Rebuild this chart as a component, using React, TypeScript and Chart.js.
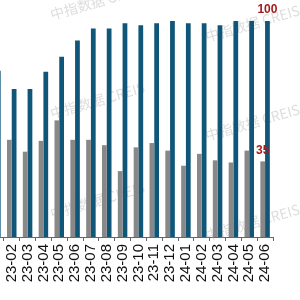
import React, { useEffect, useRef } from 'react';
import { Chart, registerables } from 'chart.js';

Chart.register(...registerables);

const categories = [
  '23-01', '23-02', '23-03', '23-04', '23-05', '23-06', '23-07', '23-08', '23-09',
  '23-10', '23-11', '23-12', '24-01', '24-02', '24-03', '24-04', '24-05', '24-06',
];
const grayValues = [40, 45, 39.5, 44.5, 54, 45, 45, 42.5, 30.5, 41.5, 43.5, 40, 33, 38.5, 35.5, 34.5, 40, 35];
const blueValues = [77, 68.5, 68.5, 76.5, 83.5, 91, 96.5, 96.5, 99, 98, 99, 100, 99, 99, 98, 100, 100, 100];
const watermarkText = '中指数据 CREIS';

const OFFSET_X = -12;

export default function App() {
  const ref = useRef<HTMLCanvasElement | null>(null);

  useEffect(() => {
    const canvas = ref.current;
    if (!canvas) return;

    const lastLabels = {
      id: 'lastLabels',
      afterDatasetsDraw(chart: any) {
        const ctx = chart.ctx;
        ctx.save();
        ctx.font = 'bold 12px "Liberation Sans", Arial, sans-serif';
        ctx.fillStyle = '#a51c1c';
        ctx.textAlign = 'center';
        ctx.textBaseline = 'bottom';
        chart.data.datasets.forEach((ds: any, i: number) => {
          const meta = chart.getDatasetMeta(i);
          const n = meta.data.length - 1;
          const el = meta.data[n];
          ctx.fillText(String(ds.data[n]), el.x, el.y - 5);
        });
        ctx.restore();
      },
    };

    const watermark = {
      id: 'watermark',
      beforeDatasetsDraw(chart: any) {
        const ctx = chart.ctx;
        ctx.save();
        ctx.font = '14px "Noto Sans CJK SC", "Noto Sans", sans-serif';
        ctx.fillStyle = 'rgba(170,170,170,0.4)';
        ctx.textAlign = 'left';
        ctx.textBaseline = 'alphabetic';
        const cols = [
          { x: -103, ys: [-2, 97, 197] },
          { x: 52, ys: [20, 119, 219] },
          { x: 207, ys: [42, 141, 241] },
        ];
        cols.forEach((c) => {
          c.ys.forEach((y) => {
            ctx.save();
            ctx.translate(c.x - OFFSET_X, y);
            ctx.rotate(-0.28);
            ctx.fillText(watermarkText, 0, 0);
            ctx.restore();
          });
        });
        ctx.restore();
      },
    };

    const chart = new Chart(canvas, {
      type: 'bar',
      data: {
        labels: categories,
        datasets: [
          {
            label: 'gray',
            data: grayValues,
            backgroundColor: '#888888',
            barPercentage: 1,
            categoryPercentage: 0.6,
          },
          {
            label: 'blue',
            data: blueValues,
            backgroundColor: '#0f5678',
            barPercentage: 1,
            categoryPercentage: 0.6,
          },
        ],
      },
      options: {
        responsive: false,
        animation: false,
        devicePixelRatio: 1,
        layout: { padding: { top: 21, right: 27, left: 0, bottom: 0 } },
        plugins: {
          legend: { display: false },
          tooltip: { enabled: false },
        },
        scales: {
          x: {
            offset: true,
            grid: {
              display: true,
              drawOnChartArea: false,
              drawTicks: true,
              tickLength: 4,
              color: '#666666',
              offset: true,
            },
            border: { display: true, color: '#666666', width: 1 },
            ticks: {
              autoSkip: false,
              maxRotation: 90,
              minRotation: 90,
              padding: 3,
              color: '#111111',
              font: { family: '"Liberation Sans", Arial, sans-serif', size: 15 },
            },
            afterFit: (s: any) => {
              s.height = 63;
            },
          },
          y: {
            display: false,
            min: 0,
            max: 100,
          },
        },
      },
      plugins: [watermark, lastLabels],
    });

    return () => chart.destroy();
  }, []);

  return (
    <div style={{ position: 'fixed', left: OFFSET_X, top: 0, width: 312, height: 300 }}>
      <canvas ref={ref} width={312} height={300} style={{ display: 'block' }} />
    </div>
  );
}
